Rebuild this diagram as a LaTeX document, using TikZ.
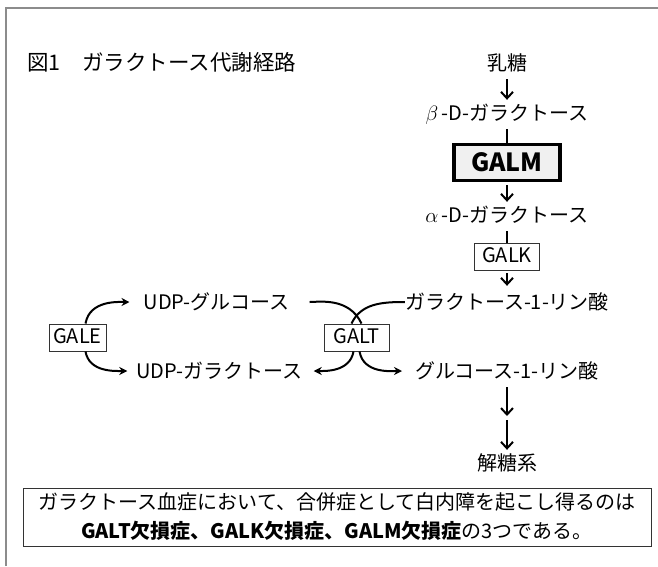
\documentclass[tikz,border=0pt]{standalone}
\usepackage{fontspec}
\setmainfont{Noto Sans CJK JP}
\usetikzlibrary{arrows.meta}

\tikzset{
	lbl/.style={inner xsep=0pt,inner ysep=3pt,text height=17pt,text depth=3pt,font=\fontsize{20}{24}\selectfont},
	enz/.style={draw=black!80,line width=0.9pt,inner xsep=4pt,inner ysep=4.5pt,text height=15pt,text depth=3pt,font=\fontsize{20}{24}\selectfont},
	flow/.style={line width=2pt,-{Straight Barb[length=6.5pt,width=12pt]},shorten <=3pt},
	bar/.style={line width=2pt,shorten <=3pt},
	curv/.style={line width=2pt,-{Stealth[length=8pt,width=8pt]}},
}

\begin{document}
\begin{tikzpicture}[x=1pt,y=-1pt]
	\useasboundingbox (0,0) rectangle (658,566);
	\draw[black!45,line width=1.5pt] (6,566) -- (6,8) -- (658,8);
	\node[lbl,anchor=west,font=\fontsize{21.5}{26}\selectfont] (title) at (27,63) {図1　ガラクトース代謝経路};
	% main column
	\node[lbl] (lactose) at (507,63) {乳糖};
	\node[lbl] (bgal) at (507,113) {$\beta$\,-D-ガラクトース};
	\node[draw=black,line width=3.5pt,fill=black!6,minimum width=106pt,minimum height=36pt,inner sep=0pt,font=\fontsize{25}{30}\selectfont\bfseries] (galm) at (507,162.5) {GALM};
	\node[lbl] (agal) at (507,215) {$\alpha$\,-D-ガラクトース};
	\node[enz,minimum width=65pt] (galk) at (507,256.5) {GALK};
	\node[lbl] (galp) at (507,302) {ガラクトース-1-リン酸};
	\node[lbl] (glcp) at (507,371) {グルコース-1-リン酸};
	\coordinate (glycmid) at (507,416);
	\node[lbl] (glyc) at (507,463) {解糖系};
	% UDP cycle
	\node[lbl] (udpglc) at (216.5,302) {UDP-グルコース};
	\node[lbl] (udpgal) at (219.5,371) {UDP-ガラクトース};
	\node[enz,minimum width=57pt] (gale) at (77.5,337.5) {GALE};
	\node[enz,minimum width=65pt] (galt) at (356.5,337.5) {GALT};
	\path [flow] (lactose) edge (bgal);
	\path [bar] (bgal) edge (galm);
	\path [flow] (galm) edge (agal);
	\path [bar] (agal) edge (galk);
	\path [flow,shorten >=3pt] (galk) edge (galp);
	\path [flow] (glcp) edge (glycmid);
	\path [flow,shorten <=4pt] (glycmid) edge (glyc);
	\path [curv,shorten >=14pt] ([xshift=8pt]gale.north) edge[out=80,in=180] (udpglc.west);
	\path [curv,shorten >=9pt] ([xshift=8pt]gale.south) edge[out=-80,in=180] (udpgal.west);
	\path [bar,shorten <=20pt] (udpglc.east) edge[out=0,in=115] ([xshift=5pt]galt.north);
	\path [bar,shorten <=0pt] (galp.west) edge[out=180,in=65] ([xshift=-5pt]galt.north);
	\path [curv,shorten >=11pt] ([xshift=-3pt]galt.south) edge[out=-100,in=0] (udpgal.east);
	\path [curv,shorten >=13pt] ([xshift=3pt]galt.south) edge[out=-80,in=180] (glcp.west);
	% note
	\node[draw=black!80,line width=0.9pt,minimum width=628pt,minimum height=58pt,align=center,font=\fontsize{20}{29}\selectfont] (note) at (337,517)
		{ガラクトース血症において、合併症として白内障を起こし得るのは\\\textbf{GALT欠損症、GALK欠損症、GALM欠損症}の3つである。};
\end{tikzpicture}
\end{document}
